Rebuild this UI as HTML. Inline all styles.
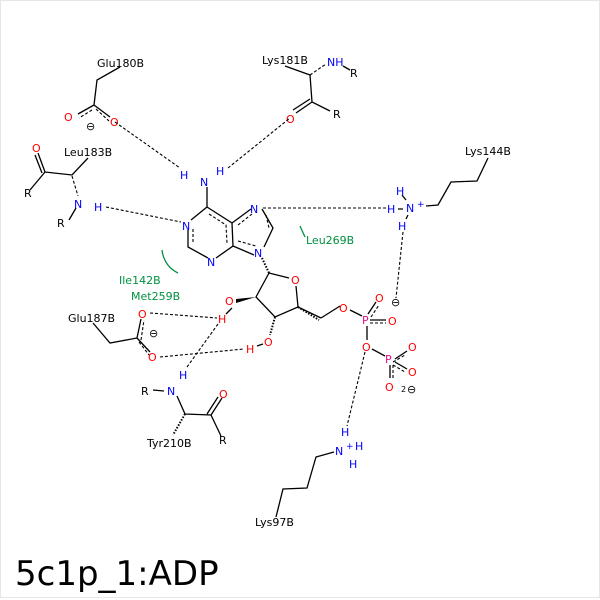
<!DOCTYPE html>
<html><head><meta charset="utf-8"><style>
html,body{margin:0;padding:0;background:#fff;}
svg{display:block;}
text{font-family:"DejaVu Sans","Liberation Sans",sans-serif;font-size:11px;}
.b{stroke:#000;stroke-width:1.3;fill:none;}
.h{stroke:#000;stroke-width:1.1;fill:none;stroke-dasharray:3,2;}
.O{fill:#f00;}.N{fill:#00f;}.P{fill:#e0108a;}.K{fill:#000;}.G{fill:#009040;}
</style></head><body>
<svg width="600" height="600" viewBox="0 0 600 600" xmlns="http://www.w3.org/2000/svg">
<rect x="0.5" y="0.5" width="599" height="597" fill="#fff" stroke="#e6e6e6"/>
<text x="15" y="585" style="font-size:34px" class="K">5c1p_1:ADP</text>

<!-- Glu180B -->
<text x="97" y="67" class="K">Glu180B</text>
<path class="b" d="M120 67 L97 80 L94 105 M94 105 L78 114 M94 105 L110 117"/>
<path class="h" d="M92 110 L79 118 M96 109 L109 121"/>
<text x="64" y="121" class="O">O</text><text x="110" y="126" class="O">O</text>
<text x="86" y="130" class="K">⊖</text>

<!-- Lys181B -->
<text x="262" y="64" class="K">Lys181B</text>
<text x="327" y="66" class="N">NH</text><text x="350" y="77" class="K">R</text>
<path class="b" d="M285 66 L310 75 L312 102 L330 111 M312 102 L296 113 M310 99 L293 110 M343 66 L350 70"/>
<path class="h" d="M310 75 L326 64"/>
<text x="333" y="118" class="K">R</text>
<text x="286" y="123" class="O">O</text>

<!-- Leu183B -->
<text x="64" y="156" class="K">Leu183B</text>
<path class="b" d="M88 158 L72 175 L45 172 L30 190 M45 172 L38 153 M42 173 L35 155 M76 208 L69 220"/>
<path class="h" d="M72 176 L78 196"/>
<text x="32" y="152" class="O">O</text>
<text x="24" y="197" class="K">R</text>
<text x="74" y="208" class="N">N</text><text x="94" y="211" class="N">H</text>
<text x="57" y="227" class="K">R</text>

<!-- Adenine -->
<text x="200" y="186" class="N">N</text>
<text x="180" y="179" class="N">H</text><text x="216" y="175" class="N">H</text>
<path class="b" d="M207 187 L207 207 M207 207 L191 220 M188 230 L188 247 L208 258 M216 258 L233 246 L232 223 L207 207 M232 223 L251 209 M262 209 L273 228 L264 247 M254 255 L233 246"/>
<path class="h" d="M209 214 L226 225 L227 243 M193 229 L193 244 M238 225 L252 214 M266 215 L269 228 M238 241 L256 246"/>
<text x="182" y="230" class="N">N</text><text x="207" y="266" class="N">N</text>
<text x="250" y="213" class="N">N</text><text x="254" y="257" class="N">N</text>
<path class="h" d="M115 122 L180 168 M228 168 L290 118 M106 207 L181 222 M263 208 L386 208"/>

<!-- Lys144B -->
<text x="465" y="155" class="K">Lys144B</text>
<path class="b" d="M488 158 L477 181 L451 182 L438 205 L426 206"/>
<text x="396" y="195" class="N">H</text>
<text x="387" y="213" class="N">H</text>
<text x="406" y="212" class="N">N</text><text x="417" y="207" class="N" style="font-size:9px">+</text>
<text x="398" y="230" class="N">H</text>
<path class="b" d="M398 209 L403 209 M402 195 L406 200 M408 215 L406 219"/>
<path class="h" d="M403 232 L396 298"/>

<!-- green -->
<text x="119" y="284" class="G">Ile142B</text>
<text x="131" y="300" class="G">Met259B</text>
<path d="M162 250 Q164 266 178 273" stroke="#009040" stroke-width="1.3" fill="none"/>
<text x="306" y="244" class="G">Leu269B</text>
<path d="M300 226 L305 237" stroke="#009040" stroke-width="1.3"/>

<!-- Ribose -->
<path class="h" d="M262 258 L269 273" style="stroke-dasharray:1.5,1.5;stroke-width:2"/>
<path class="b" d="M269 273 L289 278 M296 286 L298 307 L275 317 L256 297 L269 273 M298 307 L321 318 M321 318 L340 306 M350 310 L362 316"/>
<path d="M256 297 L236 299 L236 303 Z" fill="#000"/>
<path class="h" d="M298 307 L319 320" style="stroke-dasharray:1.5,1.5;stroke-width:2"/>
<path class="h" d="M275 317 L270 335" style="stroke-dasharray:1.5,1.5;stroke-width:2"/>
<text x="291" y="284" class="O">O</text>
<text x="225" y="305" class="O">O</text><text x="218" y="323" class="O">H</text>
<text x="264" y="346" class="O">O</text><text x="246" y="353" class="O">H</text>
<path class="b" d="M232 308 L226 314 M257 346 L263 344"/>

<!-- phosphates -->
<text x="339" y="312" class="O">O</text>
<text x="362" y="324" class="P">P</text>
<text x="375" y="302" class="O">O</text><text x="388" y="325" class="O">O</text>
<text x="391" y="306" class="K">⊖</text>
<path class="b" d="M368 314 L376 302 M370 320 L386 320 M367 326 L367 340 M372 349 L385 356 M395 359 L407 351 M395 362 L407 369 M390 365 L390 378"/>
<path class="h" d="M371 317 L379 305 M370 323 L386 323 M393 362 L405 355 M393 365 L405 372 M393 365 L393 378"/>
<text x="362" y="351" class="O">O</text>
<text x="385" y="363" class="P">P</text>
<text x="408" y="351" class="O">O</text><text x="408" y="376" class="O">O</text>
<text x="385" y="391" class="O">O</text>
<text x="401" y="392" class="K" style="font-size:8px">2</text><text x="407" y="393" class="K">⊖</text>

<!-- Lys97B -->
<path class="h" d="M365 352 L347 426"/>
<text x="341" y="436" class="N">H</text>
<text x="335" y="455" class="N">N</text><text x="346" y="449" class="N" style="font-size:9px">+</text>
<text x="355" y="450" class="N">H</text>
<text x="349" y="468" class="N">H</text>
<path class="b" d="M334 452 L316 457 L307 488 L283 489 L276 517"/>
<text x="255" y="526" class="K">Lys97B</text>

<!-- Glu187B -->
<text x="68" y="322" class="K">Glu187B</text>
<path class="b" d="M93 323 L110 343 L137 338 L141 319 M137 338 L150 352"/>
<path class="h" d="M141 340 L144 320 M139 342 L149 355"/>
<text x="138" y="318" class="O">O</text><text x="148" y="361" class="O">O</text>
<text x="149" y="337" class="K">⊖</text>
<path class="h" d="M150 313 L217 318 M160 357 L244 349 M187 367 L218 324"/>

<!-- Tyr210B -->
<text x="179" y="379" class="N">H</text>
<text x="167" y="395" class="N">N</text>
<text x="141" y="395" class="K">R</text>
<path class="b" d="M153 390 L164 391 M177 396 L185 414 L211 415 L221 436 M211 415 L222 398 M207 414 L218 397"/>
<path class="h" d="M185 414 L173 435" style="stroke-dasharray:1.5,1.5;stroke-width:2"/>
<text x="219" y="398" class="O">O</text>
<text x="219" y="444" class="K">R</text>
<text x="147" y="447" class="K">Tyr210B</text>
</svg>
</body></html>
